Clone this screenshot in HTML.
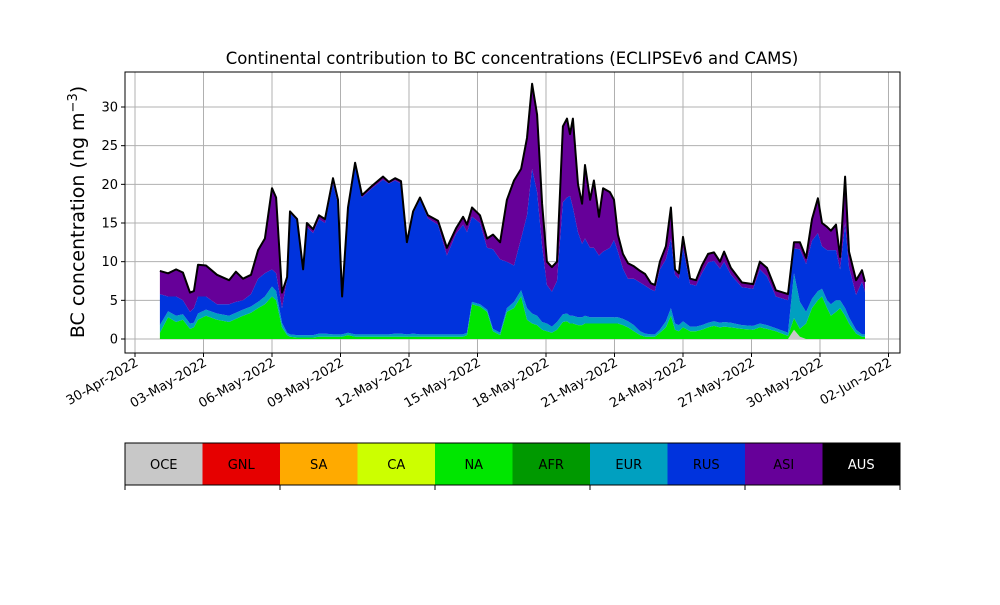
<!DOCTYPE html>
<html><head><meta charset="utf-8"><style>
body{margin:0;background:#fff;font-family:"Liberation Sans","DejaVu Sans",sans-serif}
svg text{font-family:"DejaVu Sans","Liberation Sans",sans-serif}
</style></head><body>
<svg id="c" width="1000" height="600" xmlns="http://www.w3.org/2000/svg"></svg>
<script>
const days=[1.09,1.45,1.80,2.10,2.41,2.58,2.76,3.11,3.59,4.12,4.42,4.73,5.08,5.39,5.69,6.00,6.18,6.44,6.66,6.79,7.10,7.36,7.53,7.80,8.06,8.32,8.67,8.89,9.07,9.33,9.64,9.94,10.38,10.86,11.12,11.39,11.65,11.91,12.18,12.48,12.83,13.27,13.66,14.06,14.37,14.54,14.76,15.11,15.42,15.68,15.99,16.29,16.60,16.91,17.17,17.39,17.61,17.83,18.04,18.26,18.48,18.74,18.92,19.05,19.18,19.40,19.58,19.71,19.93,20.10,20.32,20.50,20.80,20.98,21.15,21.37,21.59,21.85,22.12,22.34,22.60,22.77,22.99,23.25,23.47,23.65,23.82,24.00,24.31,24.57,24.83,25.10,25.36,25.62,25.80,26.10,26.58,27.07,27.37,27.68,28.07,28.60,28.86,29.12,29.39,29.65,29.91,30.09,30.31,30.48,30.70,30.88,31.10,31.27,31.58,31.84,31.97];
const oce=days.map((d,i)=>i===102?1.2:(i===103?0.3:0));
const na=[0.8,2.8,2.2,2.5,1.3,1.5,2.5,3.0,2.5,2.2,2.6,3.0,3.4,4,4.5,5.5,5.0,1.5,0.5,0.3,0.2,0.2,0.2,0.2,0.3,0.3,0.3,0.3,0.3,0.5,0.3,0.3,0.3,0.3,0.3,0.3,0.3,0.3,0.3,0.3,0.3,0.3,0.3,0.3,0.3,0.5,4.5,4.2,3.5,1.0,0.5,3.5,4,5.5,2.5,2,1.8,1.2,1,0.8,1.2,2.2,2.3,2,2,1.8,1.8,2,2,2,2,2,2,2,2,1.8,1.5,1,0.5,0.3,0.3,0.3,0.8,1.5,3,1.2,1,1.5,1,1,1.2,1.5,1.7,1.5,1.6,1.5,1.3,1.2,1.5,1.3,1,0.4,1.5,1,2,4,5,5.5,4,3,3.5,4,3,2,0.7,0.3,0.3];
const eur=[1.0,0.8,0.8,0.7,0.7,0.6,0.8,0.8,0.8,0.8,0.8,0.8,0.8,0.8,1,1.3,1.2,0.6,0.3,0.3,0.3,0.3,0.3,0.3,0.4,0.4,0.3,0.3,0.3,0.3,0.3,0.3,0.3,0.3,0.3,0.4,0.4,0.3,0.4,0.3,0.3,0.3,0.3,0.3,0.3,0.3,0.3,0.3,0.3,0.3,0.3,0.5,0.8,0.8,1.5,1.3,1.2,1,1,0.8,1,1,1,1,1,1,1,1,0.8,0.8,0.8,0.8,0.8,0.8,0.8,0.8,0.8,0.8,0.5,0.4,0.3,0.3,0.4,0.8,1,0.8,0.8,0.8,0.6,0.6,0.6,0.6,0.6,0.6,0.6,0.6,0.5,0.5,0.5,0.5,0.4,0.4,5.8,3.5,1.5,1.2,1.2,1,1,1.5,1.5,1,1,0.8,0.5,0.3,0.3];
const rus=[4.0,1.9,2.5,1.8,1.5,1.9,2.2,1.7,1.2,1.5,1.4,1.2,1.6,3,3,2.2,2.3,1.9,7,15.7,14.8,8.3,14,13.2,14.8,14.3,19.5,16.8,4.9,16,21.9,17.7,18.9,20,19.5,19.8,19.4,11.7,15.5,17.4,15,14.2,10.2,13,14.2,13,11,10.5,8,10.3,9.5,6,4.7,6.7,12,18.7,16,9.8,5,4.5,5.3,14.5,15,15.5,14,11,9.5,10,9,9,8,8.5,9,10,8.5,6.5,5.5,6,6.3,6.2,5.8,5.6,7.8,8,9,6.3,6,9.5,5.5,5.3,6.7,7.8,7.8,7,7.8,6.2,4.9,4.8,7,6.3,4.1,4.2,3.2,6.8,6.2,7.5,7.5,5.5,6.5,7,6.5,4,11,6.5,4.5,6.8,5.5];
const asi=[3.0,3.0,3.5,3.6,2.5,2.2,4.1,4,3.8,3.1,3.9,2.8,2.5,3.7,4.5,10.5,9.8,2,0.2,0.2,0.2,0.2,0.5,0.5,0.5,0.5,0.7,0.6,0,0.2,0.3,0.3,0.3,0.4,0.2,0.3,0.3,0.2,0.3,0.3,0.4,0.5,1.0,0.7,1,1,1.2,1.0,1.2,1.9,2.2,8,11,9,10,11,10,5.5,3,3.2,2.5,9.8,10.2,8,11.5,6.2,5.2,9.5,6.2,8.7,5,8.2,7.2,5.2,2.2,1.9,2,1.6,1.5,1.5,0.8,0.8,1,1.7,4,0.7,0.7,1.4,0.7,0.7,1,1.1,1.1,0.9,1.3,0.9,0.6,0.6,1,1.1,0.8,0.8,0.8,0.9,0.8,2.8,4.5,3,3,2.5,3.3,1.6,6,2,1.9,1.5,1.3];
const yTicks=[0,5,10,15,20,25,30];
const xTickDays=[0,3,6,9,12,15,18,21,24,27,30,33];
const xTickLabels=["30-Apr-2022","03-May-2022","06-May-2022","09-May-2022","12-May-2022","15-May-2022","18-May-2022","21-May-2022","24-May-2022","27-May-2022","30-May-2022","02-Jun-2022"];
const legNames=["OCE","GNL","SA","CA","NA","AFR","EUR","RUS","ASI","AUS"];
const legColors=["#c8c8c8","#e60000","#ffaa00","#ccff00","#00e600","#009900","#00a0c0","#0033dd","#660099","#000000"];

const NS="http://www.w3.org/2000/svg";
const svg=document.getElementById('c');
const L=125,R=900,T=72,B=353;
const X=d=>135+d*22.833;
const Y=v=>339-v*7.733;
function el(t,a,p){const e=document.createElementNS(NS,t);for(const k in a)e.setAttribute(k,a[k]);(p||svg).appendChild(e);return e;}

let t=el('text',{x:512,y:64,'text-anchor':'middle','font-size':16.5});t.textContent="Continental contribution to BC concentrations (ECLIPSEv6 and CAMS)";


xTickDays.forEach(d=>{const g=el('line',{x1:X(d),x2:X(d),y1:T,y2:B,stroke:'#b0b0b0','stroke-width':1});

});
yTicks.forEach(v=>{const g=el('line',{x1:L,x2:R,y1:Y(v),y2:Y(v),stroke:'#b0b0b0','stroke-width':1});

});
const series=[[oce,"#c8c8c8","oce"],[na,"#00e600","na"],[eur,"#00a0c0","eur"],[rus,"#0033dd","rus"],[asi,"#660099","asi"]];
let base=days.map(()=>0);
series.forEach(([arr,col,nm])=>{
  const top=base.map((b,i)=>b+arr[i]);
  let d='M'+days.map((dd,i)=>X(dd).toFixed(1)+','+Y(top[i]).toFixed(1)).join('L');
  for(let i=days.length-1;i>=0;i--)d+='L'+X(days[i]).toFixed(1)+','+Y(base[i]).toFixed(1);
  const p=el('path',{d:d+'Z',fill:col,stroke:'none'});
  
  
  base=top;
});
const tl=el('polyline',{points:days.map((dd,i)=>X(dd).toFixed(1)+','+Y(base[i]).toFixed(1)).join(' '),fill:'none',stroke:'#000','stroke-width':2,'stroke-linejoin':'round'});


const fr=el('rect',{x:L,y:T,width:R-L,height:B-T,fill:'none',stroke:'#000','stroke-width':1});


yTicks.forEach(v=>{el('line',{x1:L-4,x2:L,y1:Y(v),y2:Y(v),stroke:'#000'});
 const tx=el('text',{x:L-7,y:Y(v)+4.5,'text-anchor':'end','font-size':13});tx.textContent=v;
 
 });
xTickDays.forEach((d,i)=>{const x=X(d);el('line',{x1:x,x2:x,y1:B,y2:B+4,stroke:'#000'});
 const tx=el('text',{x:x+4,y:B+12,'text-anchor':'end','font-size':13,transform:`rotate(-30 ${x+4} ${B+12})`});tx.textContent=xTickLabels[i];
 
 });
const yl=el('text',{x:84,y:212,'text-anchor':'middle','font-size':19,transform:'rotate(-90 84 212)'});
yl.innerHTML='BC concentration (ng m<tspan baseline-shift="super" font-size="13">−3</tspan>)';


const w=(R-L)/legNames.length;
legNames.forEach((n,i)=>{const r=el('rect',{x:L+i*w,y:443,width:w,height:42,fill:legColors[i]});
 
 
 const tx=el('text',{x:L+i*w+w/2,y:469,'text-anchor':'middle','font-size':13,fill:n==='AUS'?'#fff':'#000'});tx.textContent=n;
 
 });
el('rect',{x:L,y:443,width:R-L,height:42,fill:'none',stroke:'#000','stroke-width':1});
for(let k=0;k<=5;k++){const x=L+k*(R-L)/5;el('line',{x1:x,x2:x,y1:485,y2:490,stroke:'#000'});}
</script>
</body></html>
